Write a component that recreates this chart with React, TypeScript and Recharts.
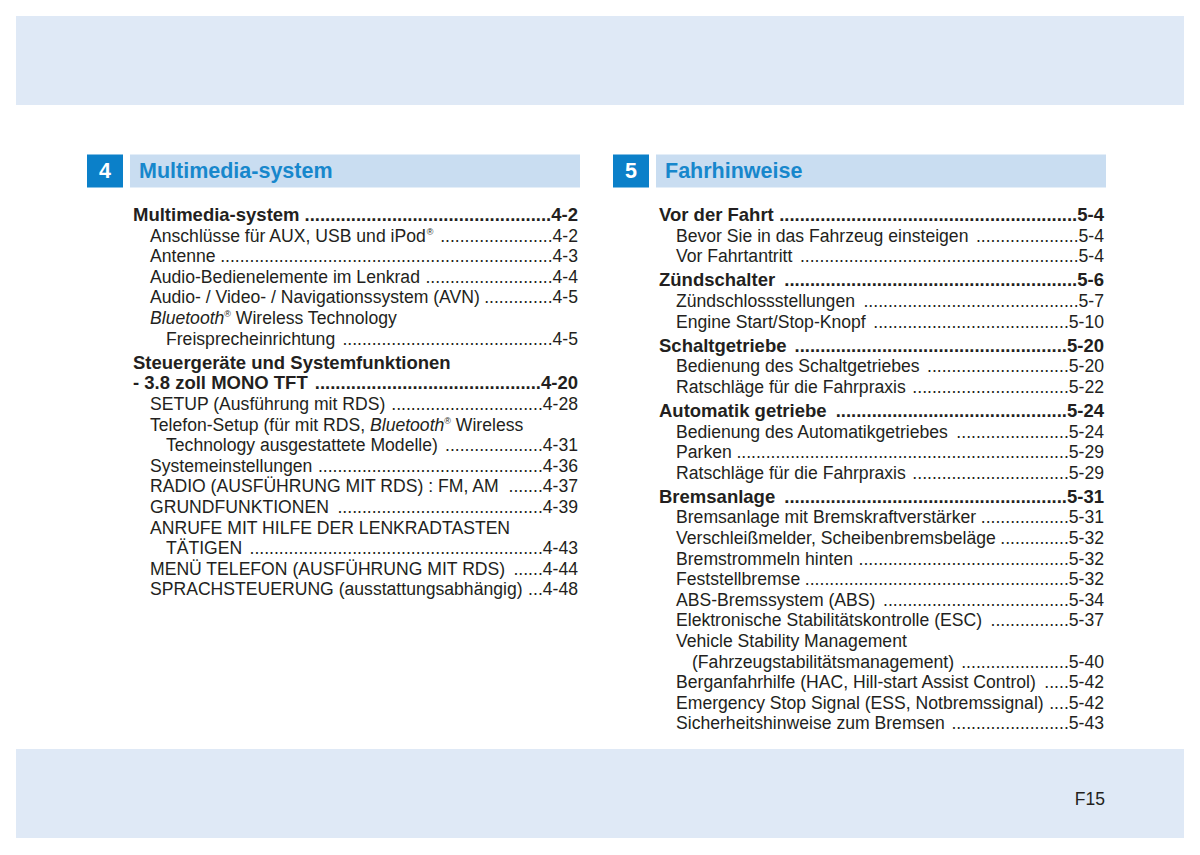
import React from 'react';
import { ScatterChart, Scatter, XAxis, YAxis, Customized } from 'recharts';

// chapter headers
const sectionNumbers = ['4', '5'];
const sectionTitles = ['Multimedia-system', 'Fahrhinweise'];

// chapter 4 entries (h = heading, h+ = heading continued, s = sub entry, s+ = sub entry continued)
const section4Titles = [
  'Multimedia-system',
  'Anschlüsse für AUX, USB und iPod®',
  'Antenne',
  'Audio-Bedienelemente im Lenkrad',
  'Audio- / Video- / Navigationssystem (AVN)',
  '_Bluetooth_® Wireless Technology',
  'Freisprecheinrichtung',
  'Steuergeräte und Systemfunktionen',
  '- 3.8 zoll MONO TFT',
  'SETUP (Ausführung mit RDS)',
  'Telefon-Setup (für mit RDS, _Bluetooth_® Wireless',
  'Technology ausgestattete Modelle)',
  'Systemeinstellungen',
  'RADIO (AUSFÜHRUNG MIT RDS) : FM, AM',
  'GRUNDFUNKTIONEN',
  'ANRUFE MIT HILFE DER LENKRADTASTEN',
  'TÄTIGEN',
  'MENÜ TELEFON (AUSFÜHRUNG MIT RDS)',
  'SPRACHSTEUERUNG (ausstattungsabhängig)',
];
const section4Levels = ['h', 's', 's', 's', 's', 's', 's+', 'h', 'h+', 's', 's', 's+', 's', 's', 's', 's', 's+', 's', 's'];
const section4Pages = ['4-2', '4-2', '4-3', '4-4', '4-5', '', '4-5', '', '4-20', '4-28', '', '4-31', '4-36', '4-37', '4-39', '', '4-43', '4-44', '4-48'];

// chapter 5 entries
const section5Titles = [
  'Vor der Fahrt',
  'Bevor Sie in das Fahrzeug einsteigen',
  'Vor Fahrtantritt',
  'Zündschalter',
  'Zündschlossstellungen',
  'Engine Start/Stop-Knopf',
  'Schaltgetriebe',
  'Bedienung des Schaltgetriebes',
  'Ratschläge für die Fahrpraxis',
  'Automatik getriebe',
  'Bedienung des Automatikgetriebes',
  'Parken',
  'Ratschläge für die Fahrpraxis',
  'Bremsanlage',
  'Bremsanlage mit Bremskraftverstärker',
  'Verschleißmelder, Scheibenbremsbeläge',
  'Bremstrommeln hinten',
  'Feststellbremse',
  'ABS-Bremssystem (ABS)',
  'Elektronische Stabilitätskontrolle (ESC)',
  'Vehicle Stability Management',
  '(Fahrzeugstabilitätsmanagement)',
  'Berganfahrhilfe (HAC, Hill-start Assist Control)',
  'Emergency Stop Signal (ESS, Notbremssignal)',
  'Sicherheitshinweise zum Bremsen',
];
const section5Levels = ['h', 's', 's', 'h', 's', 's', 'h', 's', 's', 'h', 's', 's', 's', 'h', 's', 's', 's', 's', 's', 's', 's', 's+', 's', 's', 's'];
const section5Pages = ['5-4', '5-4', '5-4', '5-6', '5-7', '5-10', '5-20', '5-20', '5-22', '5-24', '5-24', '5-29', '5-29', '5-31', '5-31', '5-32', '5-32', '5-32', '5-34', '5-37', '', '5-40', '5-42', '5-42', '5-43'];

const pageLabel = 'F15';

const W = 1200;
const H = 855;
const ROW = 20.6;
const FIRST_ROW_Y = 215;
const HEAD_GAP = 3.5 / ROW;
const COL_LEFT = 133;
const COL_STEP = 526;
const RIGHT_EDGE = 445;
const FONT = '"Liberation Sans", Arial, Helvetica, sans-serif';
const TEXT = '#231f20';

const canvasCtx = typeof document !== 'undefined' ? document.createElement('canvas').getContext('2d') : null;
const measure = (text: string, size: number, bold: boolean, italic: boolean) => {
  if (!canvasCtx) return text.length * size * 0.5;
  canvasCtx.font = `${italic ? 'italic ' : ''}${bold ? 'bold ' : ''}${size}px ${FONT}`;
  return canvasCtx.measureText(text).width;
};

// split "_italic_" parts and superscript ®
const parseTitle = (title: string) => {
  const segs: { text: string; italic: boolean; sup: boolean }[] = [];
  title.split('_').forEach((part, i) => {
    part.split(/(®)/).forEach((p) => {
      if (p) segs.push({ text: p, italic: i % 2 === 1, sup: p === '®' });
    });
  });
  return segs;
};

const buildRows = (col: number, titles: string[], levels: string[], pages: string[]) => {
  let heads = 0;
  return titles.map((title, i) => {
    if (i > 0 && levels[i] === 'h') heads += 1;
    return { x: col, y: i + heads * HEAD_GAP, title, level: levels[i], page: pages[i] };
  });
};

const rows4 = buildRows(0, section4Titles, section4Levels, section4Pages);
const rows5 = buildRows(1, section5Titles, section5Levels, section5Pages);
const heads = sectionNumbers.map((num, i) => ({ x: i, y: -44 / ROW, num, title: sectionTitles[i] }));

const EntryShape = (props: any) => {
  const { cx, cy } = props;
  const d = props.payload ?? props;
  const bold = d.level === 'h' || d.level === 'h+';
  const size = bold ? 18.5 : 17.6;
  const indent = d.level === 's' ? 17 : d.level === 's+' ? 33 : 0;
  const base = cy + 6;
  let x = cx + indent;
  const nodes = parseTitle(d.title).map((s, i) => {
    const fs = s.sup ? 9 : size;
    const node = (
      <text
        key={i}
        x={x}
        y={s.sup ? base - 7 : base}
        fontSize={fs}
        fontFamily={FONT}
        fontWeight={bold ? 700 : 400}
        fontStyle={s.italic ? 'italic' : 'normal'}
        fill={TEXT}
        style={{ whiteSpace: 'pre' }}
      >
        {s.text}
      </text>
    );
    x += measure(s.text, fs, bold, s.italic);
    return node;
  });
  let leader = null;
  if (d.page) {
    const right = cx + RIGHT_EDGE;
    const pageW = measure(d.page, size, bold, false);
    const dotW = measure('.', size, bold, false);
    const n = Math.max(0, Math.floor((right - pageW - x - 4) / dotW));
    leader = (
      <text x={right} y={base} textAnchor="end" fontSize={size} fontFamily={FONT} fontWeight={bold ? 700 : 400} fill={TEXT}>
        {'.'.repeat(n) + d.page}
      </text>
    );
  }
  return (
    <g>
      {nodes}
      {leader}
    </g>
  );
};

const HeadShape = (props: any) => {
  const { cx, cy } = props;
  const d = props.payload ?? props;
  return (
    <g>
      <rect x={cx - 3} y={cy - 16.5} width={450} height={33} fill="#c9ddf1" />
      <rect x={cx - 46} y={cy - 16.5} width={36} height={33} fill="#0b80c9" />
      <text x={cx - 28} y={cy + 6.5} textAnchor="middle" fontSize={21.5} fontWeight={700} fontFamily={FONT} fill="#ffffff">
        {d.num}
      </text>
      <text x={cx + 6} y={cy + 6.5} fontSize={21.5} fontWeight={700} fontFamily={FONT} fill="#1787cc">
        {d.title}
      </text>
    </g>
  );
};

const PageFrame = () => (
  <g>
    <rect x={0} y={0} width={W} height={H} fill="#ffffff" />
    <rect x={16} y={16} width={1168} height={89} fill="#dfe9f6" />
    <rect x={16} y={749} width={1168} height={89} fill="#dfe9f6" />
    <text x={1105} y={805} textAnchor="end" fontSize={17.5} fontFamily={FONT} fill={TEXT}>
      {pageLabel}
    </text>
  </g>
);

export default function App() {
  return (
    <div style={{ width: W, height: H, background: '#fff' }}>
      <style>{'body{margin:0}'}</style>
      <ScatterChart width={W} height={H} margin={{ top: 0, right: 0, bottom: 0, left: 0 }}>
        <XAxis type="number" dataKey="x" hide domain={[-COL_LEFT / COL_STEP, (W - COL_LEFT) / COL_STEP]} allowDataOverflow />
        <YAxis type="number" dataKey="y" hide reversed domain={[-FIRST_ROW_Y / ROW, (H - FIRST_ROW_Y) / ROW]} allowDataOverflow />
        <Customized component={PageFrame} />
        <Scatter data={heads} shape={HeadShape} isAnimationActive={false} />
        <Scatter data={rows4} shape={EntryShape} isAnimationActive={false} />
        <Scatter data={rows5} shape={EntryShape} isAnimationActive={false} />
      </ScatterChart>
    </div>
  );
}
